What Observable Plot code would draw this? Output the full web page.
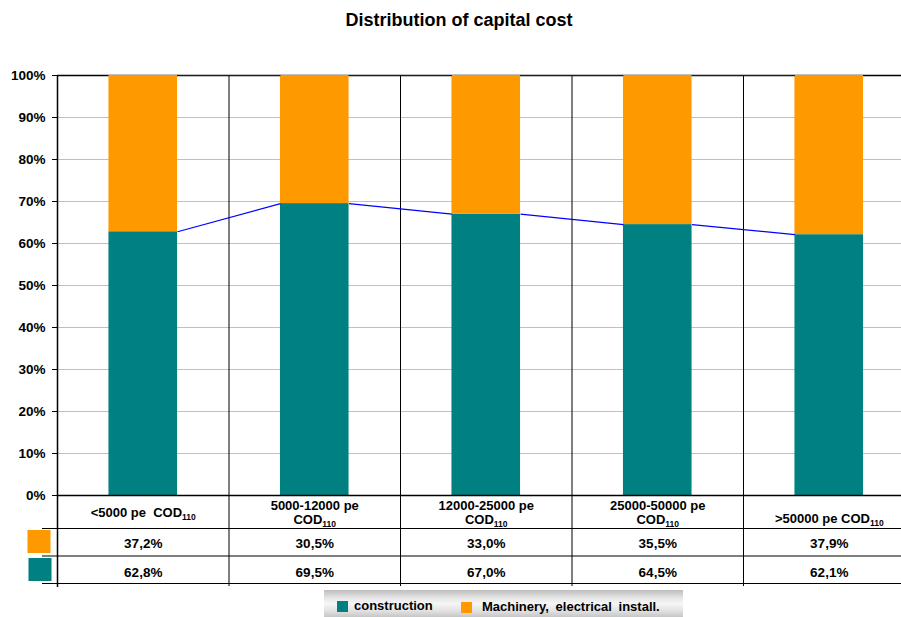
<!DOCTYPE html>
<html>
<head>
<meta charset="utf-8">
<script src="https://cdn.jsdelivr.net/npm/d3@7"></script>
<script src="https://cdn.jsdelivr.net/npm/@observablehq/plot@0.6"></script>
<style>
  body { margin: 0; background: #fff; font-family: "Liberation Sans", Arial, sans-serif; }
  #wrap { position: relative; width: 901px; height: 617px; overflow: hidden; }
  #title { position: absolute; left: 0; width: 918px; top: 10px; text-align: center; font-weight: bold; font-size: 18px; color: #000; }
  #legend { position: absolute; left: 324px; top: 590px; width: 359px; height: 27px;
    background: linear-gradient(to bottom, #bdbdbd 0%, #e6e6e6 30%, #f6f6f6 50%, #e4e4e4 75%, #c6c6c6 100%); }
  #legend .sw { position: absolute; width: 11px; height: 11px; }
  #legend .lb { position: absolute; font-weight: bold; font-size: 13px; line-height: 13px; white-space: pre; color: #000; }
</style>
</head>
<body>
<div id="wrap">
  <div id="title"></div>
  <div id="chart"></div>
  <div id="legend"></div>
</div>
<script>
const title = "Distribution of capital cost";
const categories = ["<5000 pe  COD110", "5000-12000 pe\nCOD110", "12000-25000 pe\nCOD110", "25000-50000 pe\nCOD110", ">50000 pe COD110"];
const series = ["construction", "Machinery, electrical install."];
const construction = [62.8, 69.5, 67.0, 64.5, 62.1];
const machinery = [37.2, 30.5, 33.0, 35.5, 37.9];
const yTicks = [0, 10, 20, 30, 40, 50, 60, 70, 80, 90, 100];
const gridTicks = [10, 20, 30, 40, 50, 60, 70, 80, 90];
const colors = ["#008080", "#FF9900"];

const fmt = v => v.toFixed(1).replace(".", ",") + "%";

const bars = categories.flatMap((c, i) => [
  {i, s: series[0], y1: 0, y2: construction[i]},
  {i, s: series[1], y1: construction[i], y2: construction[i] + machinery[i]}
]);
const links = d3.range(categories.length - 1).flatMap(i => [
  {a: i, b: i + 1, y1: construction[i], y2: construction[i + 1]},
  {a: i, b: i + 1, y1: construction[i] + machinery[i], y2: construction[i + 1] + machinery[i + 1]}
]);

document.getElementById("title").textContent = title;

const txt = {fontWeight: "bold", fill: "black", frameAnchor: "bottom"};
const catIdx = categories.map((c, i) => i);

const chart = Plot.plot({
  width: 901,
  height: 617,
  marginLeft: 57,
  marginRight: 0,
  marginTop: 75,
  marginBottom: 122,
  style: {fontFamily: "'Liberation Sans', Arial, sans-serif", fontSize: "13px", color: "black", background: "transparent", overflow: "visible"},
  x: {type: "linear", domain: [0, 5], range: [57, 914.5], axis: null},
  y: {domain: [0, 100]},
  color: {domain: series, range: colors},
  marks: [
    Plot.ruleY(gridTicks, {stroke: "#c0c0c0", strokeWidth: 1}),
    Plot.ruleY([100], {stroke: "black", strokeWidth: 1.5}),
    Plot.ruleX([1, 2, 3, 4], {y1: 100, y2: 0, insetBottom: -91, stroke: "black", strokeWidth: 1}),
    Plot.rect(bars, {x1: d => d.i + 0.3, x2: d => d.i + 0.7, y1: "y1", y2: "y2", fill: "s"}),
    Plot.link(links, {x1: d => d.a + 0.7, x2: d => d.b + 0.3, y1: "y1", y2: "y2", stroke: "#0000ff", strokeWidth: 1.2}),
    Plot.ruleY([0], {stroke: "black", strokeWidth: 1.5}),
    Plot.ruleX([0], {y1: 100, y2: 0, insetBottom: -92, stroke: "black", strokeWidth: 1.5}),
    Plot.ruleY([0], {dy: 33, insetLeft: -15, stroke: "black", strokeWidth: 1}),
    Plot.ruleY([0], {dy: 60.5, insetLeft: -15, stroke: "black", strokeWidth: 1}),
    Plot.ruleY([0], {dy: 88, insetLeft: -15, stroke: "black", strokeWidth: 1}),
    Plot.axisY(yTicks, {tickFormat: d => d + "%", tickSize: 5, tickPadding: 7, fontWeight: "bold", fontSize: 13.5, stroke: "black", label: null}),
    // category header row
    Plot.text(catIdx.filter(i => i === 0), {...txt, x: i => i + 0.5, text: i => categories[i], dy: 17, fontSize: 13, lineAnchor: "middle"}),
    Plot.text(catIdx.filter(i => i > 0 && i < 4), {...txt, x: i => i + 0.5, text: i => categories[i], dy: 17, fontSize: 13, lineAnchor: "middle", lineHeight: 1.08}),
    Plot.text(catIdx.filter(i => i === 4), {...txt, x: i => i + 0.5, text: i => categories[i], dy: 23, fontSize: 13, lineAnchor: "middle"}),
    // value rows
    Plot.text(machinery, {...txt, x: (d, i) => i + 0.5, text: d => fmt(d), dy: 48, fontSize: 13.5, lineAnchor: "middle"}),
    Plot.text(construction, {...txt, x: (d, i) => i + 0.5, text: d => fmt(d), dy: 77, fontSize: 13.5, lineAnchor: "middle"}),
    // row keys
    Plot.dot([series[1]], {frameAnchor: "bottom-left", dx: -18.5, dy: 46, r: 13, symbol: "square", fill: colors[1], stroke: null}),
    Plot.dot([series[0]], {frameAnchor: "bottom-left", dx: -17.5, dy: 74, r: 13, symbol: "square", fill: colors[0], stroke: null})
  ]
});

// subscripts for COD110
const svgns = "http://www.w3.org/2000/svg";
d3.select(chart).selectAll("text").each(function() {
  if (!/COD\d+/.test(this.textContent)) return;
  this.style.whiteSpace = "pre";
  const spans = this.querySelectorAll("tspan");
  const targets = spans.length ? Array.from(spans) : [this];
  for (const t of targets) {
    const m = t.textContent.match(/^(.*COD)(\d+)$/);
    if (m) {
      t.textContent = m[1];
      const sub = document.createElementNS(svgns, "tspan");
      sub.setAttribute("font-size", "8.5");
      sub.setAttribute("baseline-shift", "-3");
      sub.textContent = m[2];
      t.appendChild(sub);
    }
  }
});

document.getElementById("chart").appendChild(chart);

// legend
const legend = document.getElementById("legend");
const items = [
  {sw: 13, lb: 30, top: 11, ltop: 9},
  {sw: 137, lb: 158, top: 12, ltop: 10}
];
series.forEach((s, k) => {
  const sw = document.createElement("div");
  sw.className = "sw";
  sw.style.left = items[k].sw + "px";
  sw.style.top = items[k].top + "px";
  sw.style.background = colors[k];
  legend.appendChild(sw);
  const lb = document.createElement("div");
  lb.className = "lb";
  lb.style.left = items[k].lb + "px";
  lb.style.top = items[k].ltop + "px";
  lb.style.wordSpacing = k === 1 ? "3px" : "0px";
  lb.textContent = s;
  legend.appendChild(lb);
});
</script>
</body>
</html>
